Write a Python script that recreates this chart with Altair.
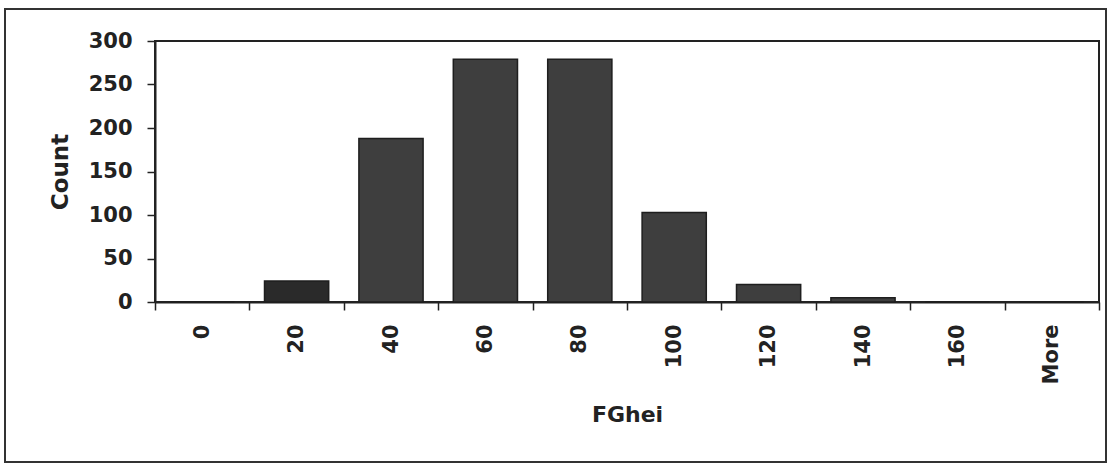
import altair as alt
import pandas as pd

bins = ["0", "20", "40", "60", "80", "100", "120", "140", "160", "More"]
counts = [0, 24, 188, 279, 279, 103, 20, 5, 0, 0]

df = pd.DataFrame({"FGhei": bins, "Count": counts})

FONT = "DejaVu Sans"
W, H = 944, 261

bars = alt.Chart(df).mark_bar(
    stroke="#1e1e1e", strokeWidth=1.5, width=alt.RelativeBandSize(0.68)
).encode(
    x=alt.X(
        "FGhei:N",
        sort=bins,
        scale=alt.Scale(paddingInner=0, paddingOuter=0),
        axis=alt.Axis(
            title="FGhei",
            labelAngle=-90,
            labelFont=FONT,
            labelFontWeight="bold",
            labelFontSize=21,
            labelColor="#222",
            labelPadding=14,
            tickBand="extent",
            tickSize=8,
            tickColor="#222",
            tickWidth=1.5,
            domainColor="#222",
            domainWidth=2,
            titleFont=FONT,
            titleFontWeight="bold",
            titleFontSize=22,
            titleColor="#222",
            titleX=W / 2,
            titleY=112,
            titleBaseline="middle",
            titleAnchor="middle",
        ),
    ),
    y=alt.Y(
        "Count:Q",
        scale=alt.Scale(domain=[0, 300], nice=False),
        axis=alt.Axis(
            title="Count",
            values=[0, 50, 100, 150, 200, 250, 300],
            grid=False,
            labelFont=FONT,
            labelFontWeight="bold",
            labelFontSize=21,
            labelColor="#222",
            labelPadding=15,
            tickSize=8,
            tickColor="#222",
            tickWidth=1.5,
            domainColor="#222",
            domainWidth=2,
            titleFont=FONT,
            titleFontWeight="bold",
            titleFontSize=23,
            titleColor="#222",
            titleAngle=-90,
            titleX=-95,
            titleY=H / 2,
            titleBaseline="middle",
            titleAlign="center",
        ),
    ),
    color=alt.condition(
        "datum.FGhei == '20'", alt.value("#2a2a2a"), alt.value("#3e3e3e")
    ),
)

border = alt.Chart(df).mark_rect(
    filled=False, stroke="#333", strokeWidth=2, clip=False
).encode(
    x=alt.value(-150), x2=alt.value(951), y=alt.value(-32), y2=alt.value(421)
)

chart = (
    alt.layer(border, bars)
    .properties(
        width=W,
        height=H,
        padding={"left": 155, "top": 41, "right": 8, "bottom": 162},
        autosize=alt.AutoSizeParams(type="none"),
        background="white",
    )
    .configure_view(stroke="#222", strokeWidth=2)
)

chart.save("out.html", embed_options={"renderer": "svg", "actions": False})
